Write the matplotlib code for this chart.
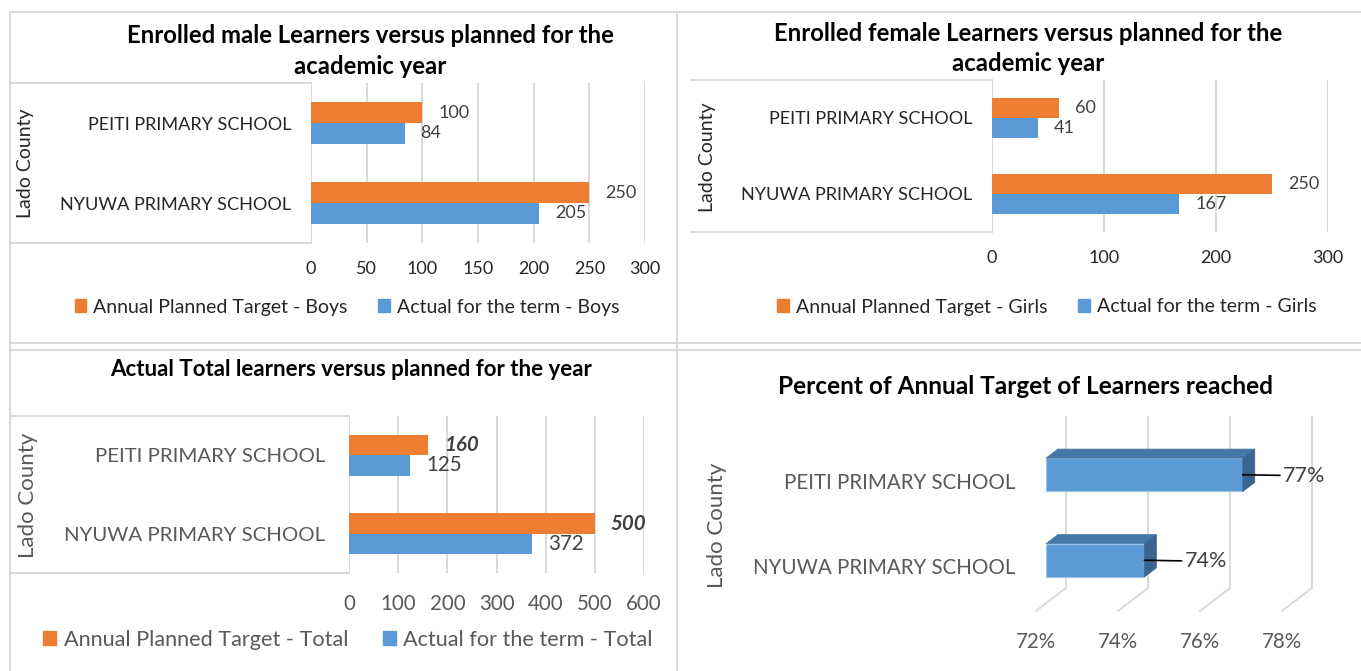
import numpy as np
import matplotlib
matplotlib.use("Agg")
import matplotlib.pyplot as plt
import matplotlib.transforms as mtransforms
from matplotlib.patches import Rectangle, Polygon, Patch
from matplotlib.lines import Line2D

plt.rcParams['font.family'] = ['Lato', 'DejaVu Sans']

# ---------------- data ----------------
schools = ["NYUWA PRIMARY SCHOOL", "PEITI PRIMARY SCHOOL"]
county = "Lado County"
boys_target = [250, 100]
boys_actual = [205, 84]
girls_target = [250, 60]
girls_actual = [167, 41]
total_target = [500, 160]
total_actual = [372, 125]
pct_reached = [0.744, 0.768]
pct_ticks = [0.72, 0.74, 0.76, 0.78]

titles = ["Enrolled male Learners versus planned for the\nacademic year",
          "Enrolled female Learners versus planned for the\nacademic year",
          "Actual Total learners versus planned for the year",
          "Percent of Annual Target of Learners reached"]
legend_boys = ["Annual Planned Target - Boys", "Actual for the term - Boys"]
legend_girls = ["Annual Planned Target - Girls", "Actual for the term - Girls"]
legend_total = ["Annual Planned Target - Total", "Actual for the term - Total"]

# ---------------- style ----------------
ORANGE = '#ED7D31'
BLUE = '#5B9BD5'
GRID = '#D9D9D9'
DARK = '#262626'
GREY = '#595959'
VAL = '#404040'

W, H = 1361, 671
fig = plt.figure(figsize=(W / 100, H / 100), dpi=100)


def fx(x):
    return x / W


def fy(y):
    return 1 - y / H


def pt(p):
    return p * 72 / 100


def add_ax(x0, y0, x1, y1):
    return fig.add_axes([x0 / W, 1 - y1 / H, (x1 - x0) / W, (y1 - y0) / H])


def fig_line(xs, ys, color=GRID, lw=1.4):
    fig.add_artist(Line2D([fx(x) for x in xs], [fy(y) for y in ys],
                          transform=fig.transFigure, color=color, lw=lw))


# panel borders
fig_line([10, W], [12, 12])
fig_line([10, W], [343, 343])
fig_line([10, W], [350, 350])
fig_line([10, 10], [12, H])
fig_line([677, 677], [12, H])


def bar_panel(rect, box, target, actual, xmax, step, lab_fs, tick_fs, val_fs,
              lab_color, tick_color, xpad, ypad, bold_target=False):
    x0, y0, x1, y1 = rect
    # category box
    fig_line([box, x0], [y0, y0])
    fig_line([box, x0], [y1, y1])
    ax = add_ax(x0, y0, x1, y1)
    ax.patch.set_visible(False)
    y = np.arange(len(schools))
    h = 0.26
    ax.barh(y + h / 2, target, height=h, color=ORANGE, zorder=2)
    ax.barh(y - h / 2, actual, height=h, color=BLUE, zorder=2)
    ax.set_xlim(0, xmax)
    ax.set_ylim(-0.5, 1.5)
    ax.set_xticks(range(0, xmax + 1, step))
    ax.grid(axis='x', color=GRID, lw=1.4)
    ax.set_axisbelow(True)
    for s in ax.spines.values():
        s.set_visible(False)
    ax.tick_params(length=0)
    ax.tick_params(axis='x', labelsize=tick_fs, labelcolor=tick_color, pad=xpad)
    ax.set_yticks(y, schools)
    ax.tick_params(axis='y', labelsize=lab_fs, labelcolor=lab_color, pad=ypad)
    for yi, v in zip(y, target):
        kw = dict(fontweight='bold', fontstyle='italic') if bold_target else {}
        ax.annotate(f"{v}", (v, yi + h / 2), xytext=(pt(16), 0),
                    textcoords='offset points', ha='left', va='center',
                    fontsize=val_fs, color=VAL, **kw)
    for yi, v in zip(y, actual):
        ax.annotate(f"{v}", (v, yi - h / 2), xytext=(pt(16), 0),
                    textcoords='offset points', ha='left', va='center',
                    fontsize=val_fs, color=VAL)
    return ax


def legend(center, labels, fs, color, sq=0.6, colsp=1.6):
    handles = [Patch(color=ORANGE), Patch(color=BLUE)]
    fig.legend(handles, labels, loc='center', bbox_to_anchor=(fx(center[0]), fy(center[1])),
               ncol=2, frameon=False, handlelength=sq, handleheight=sq,
               handletextpad=0.35, columnspacing=colsp, fontsize=fs, labelcolor=color,
               borderpad=0, borderaxespad=0)


# ---------------- panel 1 ----------------
fig.text(fx(370), fy(51), titles[0], ha='center', va='center', fontsize=17.2,
         fontweight='bold', color='black', linespacing=1.4)
bar_panel((311, 83, 645, 243), 10, boys_target, boys_actual, 300, 50,
          13.1, 13, 13, DARK, DARK, 13, 14)
fig.text(fx(26), fy(163), county, rotation=90, ha='center', va='center', fontsize=14, color=DARK)
legend((347, 307), legend_boys, 14, DARK)

# ---------------- panel 2 ----------------
fig.text(fx(1028), fy(48.5), titles[1], ha='center', va='center', fontsize=17.2,
         fontweight='bold', color='black', linespacing=1.38)
bar_panel((992, 80, 1328, 232), 691, girls_target, girls_actual, 300, 100,
          13.1, 13, 13, DARK, DARK, 13, 14)
fig.text(fx(708), fy(157), county, rotation=90, ha='center', va='center', fontsize=14, color=DARK)
legend((1047, 307), legend_girls, 14, DARK)

# ---------------- panel 3 ----------------
fig.text(fx(351), fy(370), titles[2], ha='center', va='center', fontsize=16,
         fontweight='bold', color='black')
bar_panel((349, 416, 644, 573), 10, total_target, total_actual, 600, 100,
          14.7, 14.8, 14.8, GREY, GREY, 15, 17, bold_target=True)
fig.text(fx(28), fy(495), county, rotation=90, ha='center', va='center', fontsize=16, color=GREY)
legend((348, 640), legend_total, 15.6, GREY)

# ---------------- panel 4 (3-D bars) ----------------
fig.text(fx(1026), fy(387), titles[3], ha='center', va='center', fontsize=17.6,
         fontweight='bold', color='black')
ax4 = add_ax(1046, 432, 1292, 603)
ax4.patch.set_visible(False)
ax4.set_xlim(pct_ticks[0], pct_ticks[-1])
ax4.set_ylim(-0.5, 1.5)
ax4.set_xticks([])
ax4.set_yticks([])
for s in ax4.spines.values():
    s.set_visible(False)

back = ax4.transData + mtransforms.Affine2D().translate(20, 15)
front = ax4.transData + mtransforms.Affine2D().translate(-10, -8)
ident = mtransforms.IdentityTransform()
for g in pct_ticks:
    ax4.plot([g, g], [-0.5, 1.5], transform=back, color=GRID, lw=1.4,
             clip_on=False, zorder=0.5)
    p1 = back.transform((g, -0.5))
    p2 = front.transform((g, -0.5))
    ln = Line2D([p1[0], p2[0]], [p1[1], p2[1]], transform=ident, color=GRID, lw=1.4)
    ln.set_clip_on(False)
    ax4.add_artist(ln)
    ax4.annotate(f"{g:.0%}", xy=(g, -0.5), xytext=(pt(-10), pt(-39)),
                 textcoords='offset points', ha='center', va='center',
                 fontsize=14.8, color=GREY, annotation_clip=False)

yy = np.arange(len(schools))
bh = 0.39
x_start = pct_ticks[0]
ax4.barh(yy, [v - x_start for v in pct_reached], left=x_start, height=bh,
         color=BLUE, edgecolor='#9DC3E6', lw=0.8, zorder=2)
dx, dy = 12, 9
for yi, v in zip(yy, pct_reached):
    a = ax4.transData.transform((x_start, yi + bh / 2))
    b = ax4.transData.transform((v, yi + bh / 2))
    c = ax4.transData.transform((v, yi - bh / 2))
    top = Polygon([a, b, b + [dx, dy], a + [dx, dy]], closed=True, transform=ident,
                  facecolor='#4677A8', edgecolor='#4677A8', lw=0.5, zorder=2.1)
    side = Polygon([c, b, b + [dx, dy], c + [dx, dy]], closed=True, transform=ident,
                   facecolor='#3A6590', edgecolor='#3A6590', lw=0.5, zorder=2.1)
    for p in (top, side):
        p.set_clip_on(False)
        ax4.add_artist(p)
    ax4.annotate(f"{v:.0%}", xy=(v, yi), xytext=(pt(40), pt(-1)),
                 textcoords='offset points', ha='left', va='center',
                 fontsize=15.5, color=VAL, annotation_clip=False, zorder=3,
                 arrowprops=dict(arrowstyle='-', color='black', lw=1.2,
                                 shrinkA=0, shrinkB=0))
    ax4.annotate(schools[yi], xy=(x_start, yi), xytext=(pt(-31), pt(-8)),
                 textcoords='offset points', ha='right', va='center',
                 fontsize=14.8, color=GREY, annotation_clip=False)

fig.text(fx(717), fy(525), county, rotation=90, ha='center', va='center', fontsize=16, color=GREY)

fig.savefig("out.png", dpi=100)
